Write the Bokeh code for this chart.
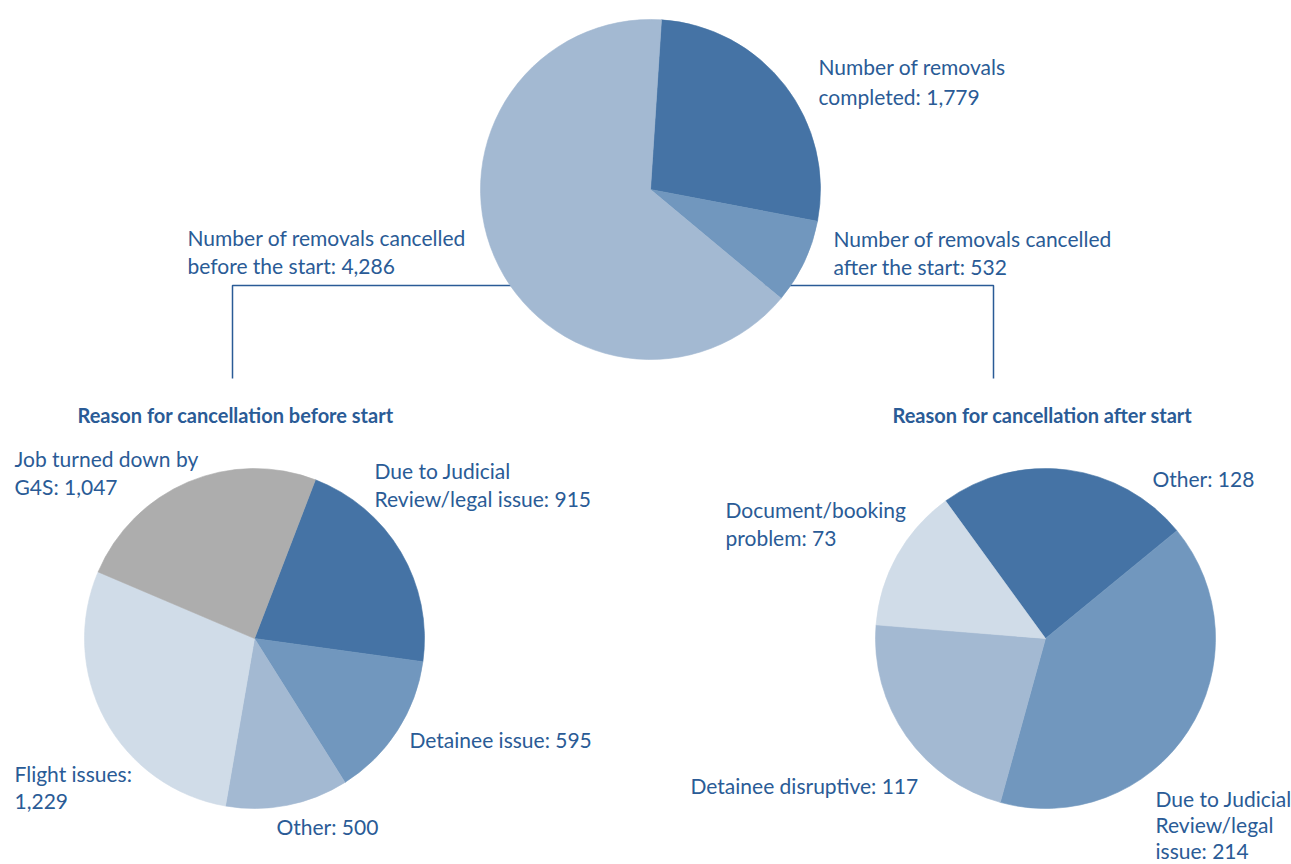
import math
from bokeh.plotting import figure
from bokeh.models import Range1d, ColumnDataSource
from bokeh.core.properties import value
from bokeh.embed import file_html
from bokeh.resources import INLINE

W, H = 1291, 864

# ---- data ----
top_labels = ["Number of removals completed", "Number of removals cancelled after the start",
              "Number of removals cancelled before the start"]
top_values = [1779, 532, 4286]

before_labels = ["Due to Judicial Review/legal issue", "Detainee issue", "Other",
                 "Flight issues", "Job turned down by G4S"]
before_values = [915, 595, 500, 1229, 1047]

after_labels = ["Other", "Due to Judicial Review/legal issue", "Detainee disruptive",
                "Document/booking problem"]
after_values = [128, 214, 117, 73]

# ---- styles ----
DARK = "#4573a5"
MED = "#7197be"
LIGHT = "#a3b9d2"
PALE = "#d0dce8"
GREY = "#adadad"
TXT = "#2a5b96"

top_colors = [DARK, MED, LIGHT]
before_colors = [DARK, MED, LIGHT, PALE, GREY]
after_colors = [DARK, MED, LIGHT, PALE]

p = figure(width=W, height=H, x_range=Range1d(0, W), y_range=Range1d(0, H),
           output_backend="svg", toolbar_location=None, min_border=0)
p.axis.visible = False
p.grid.visible = False
p.outline_line_color = None
p.background_fill_color = "white"
p.border_fill_color = "white"


def Y(y):
    return H - y


# connector lines (drawn below pies)
p.line([232, 232, 650], [Y(378), Y(285), Y(285)], line_color=TXT, line_width=1.5)
p.line([650, 993, 993], [Y(285), Y(285), Y(378)], line_color=TXT, line_width=1.5)


def pie(cx, cy, r, vals, colors, start_deg):
    tot = float(sum(vals))
    starts, ends = [], []
    acc = start_deg
    for v in vals:
        a0 = acc
        a1 = acc + 360.0 * v / tot
        starts.append(math.radians(90 - a0))
        ends.append(math.radians(90 - a1))
        acc = a1
    src = ColumnDataSource(dict(x=[cx] * len(vals), y=[Y(cy)] * len(vals),
                                s=starts, e=ends, c=colors))
    p.wedge(x="x", y="y", radius=r, start_angle="s", end_angle="e",
            direction="clock", fill_color="c", line_color="c", line_width=0.6, source=src)


pie(650, 189, 170, top_values, top_colors, 3.7)
pie(254, 638, 170, before_values, before_colors, 21.0)
pie(1045, 638, 170, after_values, after_colors, -36.0)

FONT = "Lato"
FS = "21px"


def label(x, y, lines, bold=False, align="left", size=FS, step=27.5):
    for i, t in enumerate(lines):
        p.text(x=[x], y=[Y(y + i * step)], text=[t], text_font=value(FONT),
               text_font_size=size, text_color=TXT, text_baseline="middle",
               text_align=align, text_font_style="bold" if bold else "normal")


def fmt(v):
    return f"{v:,}"


label(818, 66, ["Number of removals", f"completed: {fmt(top_values[0])}"], step=30)
label(187, 237, ["Number of removals cancelled", f"before the start: {fmt(top_values[2])}"])
label(833, 238, ["Number of removals cancelled", f"after the start: {fmt(top_values[1])}"])

label(235, 414, ["Reason for cancellation before start"], bold=True, align="center", size="20px")
label(1042, 414, ["Reason for cancellation after start"], bold=True, align="center", size="20px")

label(14, 458, ["Job turned down by", f"G4S: {fmt(before_values[4])}"])
label(374, 470, ["Due to Judicial", f"Review/legal issue: {fmt(before_values[0])}"])
label(409, 739, [f"Detainee issue: {fmt(before_values[1])}"])
label(276, 826, [f"Other: {fmt(before_values[2])}"])
label(14, 773, ["Flight issues:", fmt(before_values[3])])

label(1152, 478, [f"Other: {fmt(after_values[0])}"])
label(725, 509, ["Document/booking", f"problem: {fmt(after_values[3])}"])
label(690, 785, [f"Detainee disruptive: {fmt(after_values[2])}"])
label(1155, 798, ["Due to Judicial", "Review/legal", f"issue: {fmt(after_values[1])}"], step=26)

open("out.html", "w").write(file_html(p, INLINE))
